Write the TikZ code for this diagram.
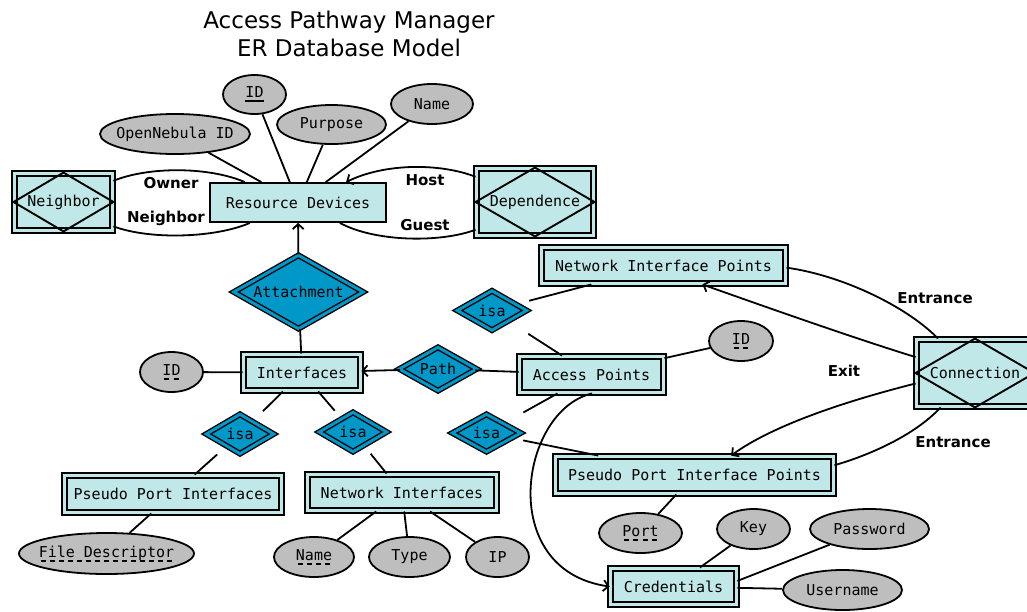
\documentclass[tikz,border=0pt]{standalone}
\usepackage{fontspec}
\setmainfont{DejaVu Sans}
\setmonofont{DejaVu Sans Mono}
\usetikzlibrary{shapes.geometric,arrows.meta,calc}
\definecolor{cyanf}{RGB}{193,232,232}
\definecolor{blued}{RGB}{0,152,200}
\definecolor{grayf}{RGB}{190,190,190}
\newcommand\nf{\ttfamily\fontsize{15}{18}\selectfont}
\newcommand\lf{\bfseries\fontsize{15}{18}\selectfont}
\newcommand\zb[1]{\makebox[0pt][c]{#1}}
\newcommand\solidul[1]{\setbox0\hbox{#1}\leavevmode\rlap{\copy0}\raisebox{-4.5pt}{\rule{\wd0}{2.2pt}}}
\newcommand\dashul[1]{\setbox0\hbox{#1}\leavevmode\rlap{\copy0}\raisebox{-4.5pt}{\hbox to \wd0{\xleaders\hbox to 9pt{\hss\rule{5pt}{1.8pt}\hss}\hfill}}}
\tikzset{
  ent/.style={rectangle, draw, line width=1.9pt, double=cyanf, double distance=3pt, fill=cyanf, inner sep=0pt, font=\nf},
  rel/.style={diamond, draw, line width=1.4pt, double=blued, double distance=3pt, fill=blued, inner sep=0pt, aspect=1.7, font=\nf},
  attr/.style={ellipse, draw, line width=1.8pt, fill=grayf, inner sep=0pt, font=\nf},
  lbl/.style={font=\lf, inner sep=0pt},
  conn/.style={line width=1.8pt},
  arr/.style={-{Straight Barb[length=5pt,width=11pt]}},
  rhomb/.style={line width=1.9pt}
}
\begin{document}
\begin{tikzpicture}[x=1pt,y=-1pt]
\useasboundingbox (0,0) rectangle (1027,611);
% title
\node[anchor=base, font=\fontsize{23}{28}\selectfont, inner sep=0pt] (t1) at (349,28) {Access Pathway Manager};
\node[anchor=base, font=\fontsize{23}{28}\selectfont, inner sep=0pt] (t2) at (349,56) {ER Database Model};
% main entity
\node[draw, fill=cyanf, line width=1.8pt, minimum width=176pt, minimum height=39pt, font=\nf, inner sep=0pt] (rd) at (298,202.5) {Resource Devices};
% associative entities
\node[ent, minimum width=98pt, minimum height=57pt] (nb) at (63.5,202) {};
\draw[rhomb] (nb.north) -- (nb.east) -- (nb.south) -- (nb.west) -- cycle;
\node[font=\nf, inner sep=0pt] (nbt) at (nb.center) {Neighbor};
\node[ent, minimum width=117pt, minimum height=67pt] (dep) at (535,202) {};
\draw[rhomb] (dep.north) -- (dep.east) -- (dep.south) -- (dep.west) -- cycle;
\node[font=\nf, inner sep=0pt] (dept) at (dep.center) {Dependence};
\node[ent, minimum width=117pt, minimum height=67pt] (con) at (975,373) {};
\draw[rhomb] (con.north) -- (con.east) -- (con.south) -- (con.west) -- cycle;
\node[font=\nf, inner sep=0pt] (cont) at (con.center) {Connection};
% weak entities
\node[ent, minimum width=244pt, minimum height=36pt] (nip) at (663.5,265.5) {Network Interface Points};
\node[ent, minimum width=144pt, minimum height=36pt] (ap) at (591.5,374.5) {Access Points};
\node[ent, minimum width=117pt, minimum height=36pt] (ifc) at (302,372.5) {Interfaces};
\node[ent, minimum width=217pt, minimum height=37pt] (ppi) at (173,494) {Pseudo Port Interfaces};
\node[ent, minimum width=189pt, minimum height=36pt] (ni) at (402,492.5) {Network Interfaces};
\node[ent, minimum width=278pt, minimum height=37pt] (ppip) at (694.5,475) {Pseudo Port Interface Points};
\node[ent, minimum width=126pt, minimum height=36pt] (cred) at (673.5,586.5) {Credentials};
% relationships
\node[rel, minimum width=130pt, minimum height=74pt] (att) at (298.5,292) {Attachment};
\node[rel, minimum width=78pt, minimum height=44pt] (path) at (438,369) {Path};
\node[rel, minimum width=70pt, minimum height=40pt] (isa1) at (492,310.5) {isa};
\node[rel, minimum width=68pt, minimum height=40pt] (isa2) at (240,434) {isa};
\node[rel, minimum width=68pt, minimum height=40pt] (isa3) at (353,432) {isa};
\node[rel, minimum width=69pt, minimum height=38pt] (isa4) at (486.5,433) {isa};
% attributes
\node[attr, minimum width=63pt, minimum height=39pt] (idrd) at (254.5,94.5) {\zb{\solidul{ID}}};
\node[attr, minimum width=150pt, minimum height=40pt] (oneb) at (175,134) {\zb{OpenNebula ID}};
\node[attr, minimum width=109pt, minimum height=39pt] (purp) at (331.5,124.5) {\zb{Purpose}};
\node[attr, minimum width=82pt, minimum height=40pt] (name) at (432,104) {\zb{Name}};
\node[attr, minimum width=63pt, minimum height=40pt] (ifid) at (171.5,372) {\zb{\dashul{ID}}};
\node[attr, minimum width=64pt, minimum height=40pt] (apid) at (741,341) {\zb{\dashul{ID}}};
\node[attr, minimum width=175pt, minimum height=41pt] (fd) at (106.5,553.5) {\zb{\dashul{File Descriptor}}};
\node[attr, minimum width=80pt, minimum height=40pt] (niname) at (314,557) {\zb{\dashul{Name}}};
\node[attr, minimum width=81pt, minimum height=40pt] (type) at (409.5,557) {\zb{Type}};
\node[attr, minimum width=63pt, minimum height=40pt] (ip) at (497.5,557) {\zb{IP}};
\node[attr, minimum width=83pt, minimum height=40pt] (port) at (640.5,533) {\zb{\dashul{Port}}};
\node[attr, minimum width=73pt, minimum height=40pt] (key) at (753.5,529) {\zb{Key}};
\node[attr, minimum width=119pt, minimum height=40pt] (pw) at (869.5,529) {\zb{Password}};
\node[attr, minimum width=119pt, minimum height=40pt] (user) at (842.5,590) {\zb{Username}};
% straight edges
\draw[conn] (oneb) -- (rd);
\draw[conn] (idrd) -- (rd);
\draw[conn] (purp) -- (rd);
\draw[conn] (name) -- (rd);
\draw[conn,arr] (att) -- (rd);
\draw[conn] (att) -- (ifc);
\draw[conn] (ifid) -- (ifc);
\draw[conn,arr] (path) -- (ifc);
\draw[conn] (path) -- (ap);
\draw[conn] (apid) -- (ap);
\draw[conn, shorten <=13pt] (isa1) -- (nip);
\draw[conn, shorten <=23pt] (isa1) -- (ap);
\draw[conn, shorten <=14pt] (isa2) -- (ifc);
\draw[conn, shorten <=12pt] (isa2) -- (ppi);
\draw[conn, shorten <=10pt] (isa3) -- (ifc);
\draw[conn, shorten <=10pt] (isa3) -- (ni);
\draw[conn, shorten <=22pt] (isa4) -- (ap);
\draw[conn, shorten <=11pt] (isa4) -- (ppip);
\draw[conn] (ppi) -- (fd);
\draw[conn] (ni) -- (niname);
\draw[conn] (ni) -- (type);
\draw[conn] (ni) -- (ip);
\draw[conn] (ppip) -- (port);
\draw[conn] (cred) -- (key);
\draw[conn] (cred.5) -- (pw);
\draw[conn] (cred) -- (user);
% curved edges
\draw[conn] (nb.23) .. controls (150,166) and (210,167) .. (rd.159);
\draw[conn] (nb.-26) .. controls (150,240) and (215,238) .. (rd.203);
\draw[conn,arr] (dep.157) .. controls (440,163) and (385,163) .. (rd.23);
\draw[conn] (dep.205) .. controls (440,243) and (375,242) .. (rd.-26);
\draw[conn,arr] (con.165) .. controls (860,340) and (780,312) .. (nip.-26);
\draw[conn] (nip.-1) .. controls (840,275) and (905,305) .. (con.137);
\draw[conn,arr] (con.190) .. controls (870,395) and (780,420) .. (ppip.28);
\draw[conn] (con.225) .. controls (915,435) and (870,455) .. (ppip.4);
\draw[conn,arr] (ap.-88) .. controls (520,410) and (495,570) .. (cred.west);
% labels
\node[lbl] (lowner) at (171,183) {Owner};
\node[lbl] (lneigh) at (166,218) {Neighbor};
\node[lbl] (lhost) at (425,180) {Host};
\node[lbl] (lguest) at (425,225) {Guest};
\node[lbl] (lent1) at (935,298) {Entrance};
\node[lbl] (lexit) at (844,371) {Exit};
\node[lbl] (lent2) at (953,442) {Entrance};
\end{tikzpicture}
\end{document}
